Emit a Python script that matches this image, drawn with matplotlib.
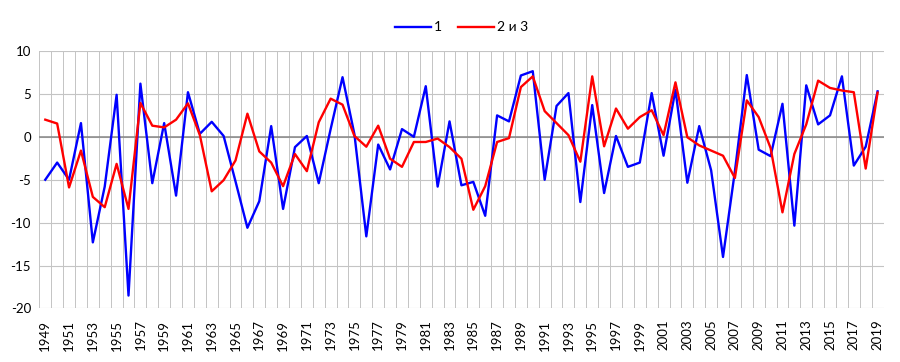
import numpy as np
import matplotlib.pyplot as plt

years = list(range(1949, 2020))

# series "1"
s1 = [-5.0, -3.0, -5.0, 1.6, -12.3, -5.8, 4.9, -18.5, 6.2, -5.4,
      1.6, -6.85, 5.2, 0.35, 1.75, 0.1, -5.2, -10.6, -7.5, 1.25,
      -8.4, -1.2, 0.1, -5.4, 0.9, 6.95, 0.3, -11.6, -0.9, -3.8,
      0.9, 0.0, 5.9, -5.8, 1.8, -5.65, -5.25, -9.2, 2.5, 1.8,
      7.15, 7.65, -5.0, 3.6, 5.1, -7.6, 3.7, -6.55, 0.1, -3.5,
      -3.0, 5.1, -2.2, 5.5, -5.35, 1.25, -3.9, -14.0, -4.0, 7.2,
      -1.5, -2.25, 3.85, -10.35, 6.0, 1.45, 2.5, 7.05, -3.35, -1.15,
      5.3]

# series "2 и 3"
s23 = [2.0, 1.55, -5.9, -1.6, -7.0, -8.2, -3.15, -8.4, 3.95, 1.3,
       1.1, 2.0, 3.9, 0.2, -6.35, -5.05, -2.75, 2.7, -1.7, -3.0,
       -5.75, -2.0, -4.0, 1.7, 4.45, 3.75, 0.1, -1.15, 1.3, -2.55,
       -3.5, -0.6, -0.6, -0.2, -1.2, -2.55, -8.5, -5.75, -0.6, -0.15,
       5.8, 7.05, 3.0, 1.6, 0.2, -2.9, 7.05, -1.1, 3.3, 0.95,
       2.3, 3.1, 0.2, 6.35, -0.05, -1.0, -1.6, -2.2, -4.8, 4.25,
       2.3, -1.3, -8.8, -2.0, 1.45, 6.55, 5.7, 5.4, 5.2, -3.7,
       5.15]

plt.rcParams['font.family'] = ['Lato', 'DejaVu Sans']

fig = plt.figure(figsize=(9, 3.62), dpi=100)
ax = fig.add_axes([0.0437, 0.148, 0.938, 0.711])

x = np.arange(len(years))
ax.plot(x, s1, color='#0000ff', lw=1.7, label='1', zorder=3)
ax.plot(x, s23, color='#ff0000', lw=1.7, label='2 и 3', zorder=4)

ax.set_xlim(-0.5, len(years) - 0.5)
ax.set_ylim(-20, 10)

# gridlines between categories (excel style)
ax.set_xticks(np.arange(-0.5, len(years), 1.0), minor=True)
ax.set_xticks(x[::2])
ax.set_xticklabels([str(y) for y in years[::2]], rotation=90, fontsize=9.5)
ax.grid(True, which='minor', axis='x', color='#c4c4c4', lw=0.7)
ax.set_yticks(np.arange(-20, 11, 5))
ax.set_yticklabels([str(v) for v in range(-20, 11, 5)], fontsize=9.5)
ax.grid(True, which='major', axis='y', color='#c4c4c4', lw=0.8)
ax.axhline(0, color='#868686', lw=1.1, zorder=2)
ax.tick_params(axis='both', which='both', length=0, pad=6)
ax.tick_params(axis='x', pad=8)
for s in ax.spines.values():
    s.set_visible(False)

ax.legend(loc='lower center', bbox_to_anchor=(0.5, 1.02), ncol=2, frameon=False,
          fontsize=10, handlelength=2.6, handletextpad=0.2, columnspacing=1.2)

fig.savefig('out.png', dpi=100)
